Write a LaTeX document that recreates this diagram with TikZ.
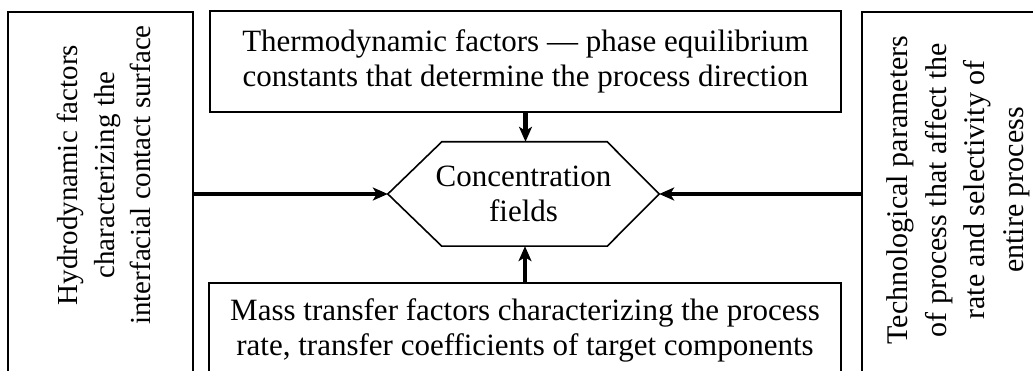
\documentclass[tikz,border=0pt]{standalone}
\usepackage{fontspec}
\setmainfont{Liberation Serif}
\usetikzlibrary{arrows.meta}

\tikzset{
  txt/.style={font=\fontsize{31}{35}\selectfont, align=center, inner sep=0pt},
  sidetxt/.style={font=\fontsize{29}{36.5}\selectfont, align=center, inner sep=0pt, rotate=90},
  box/.style={draw, line width=1.6pt, inner sep=0pt},
  flow/.style={line width=4.5pt, -{Stealth[length=15pt,width=13pt,inset=4pt]}},
}

\begin{document}
\begin{tikzpicture}[x=1pt,y=-1pt]
\useasboundingbox (0,0) rectangle (1033,371);
\clip (0,0) rectangle (1033,371);

% side boxes
\node[box, minimum width=185pt, minimum height=362pt] (hydro) at (100.5,193) {};
\node[sidetxt] (hydrotext) at (104,175)
  {Hydrodynamic factors\\characterizing the\\interfacial contact surface};
\node[box, minimum width=188pt, minimum height=362pt] (techno) at (956,193) {};
\node[sidetxt, font=\fontsize{30}{38.5}\selectfont] (technotext) at (958.5,190)
  {Technological parameters\\of process that affect the\\rate and selectivity of\\entire process};

% top and bottom boxes
\node[box, txt, minimum width=631pt, minimum height=101pt] (thermo) at (525.5,61.5)
  {Thermodynamic factors — phase equilibrium\\constants that determine the process direction};
\node[box, txt, minimum width=632pt, minimum height=95pt] (masstr) at (525,330.5)
  {Mass transfer factors characterizing the process\\rate, transfer coefficients of target components};

% centre
\node[txt, minimum width=271pt, minimum height=104pt] (hex) at (523.5,194)
  {Concentration\\fields};
\draw[line width=1.6pt] (hex.west) -- ([xshift=54pt]hex.north west)
  -- ([xshift=-52pt]hex.north east) -- (hex.east)
  -- ([xshift=-52pt]hex.south east) -- ([xshift=54pt]hex.south west) -- cycle;

\draw[flow] (hydro.east |- hex.west) -- (hex.west);
\draw[flow] (techno.west |- hex.east) -- (hex.east);
\draw[flow] (thermo.south) -- (thermo.south |- hex.north);
\draw[flow] (masstr.north) -- (masstr.north |- hex.south);
\end{tikzpicture}
\end{document}
